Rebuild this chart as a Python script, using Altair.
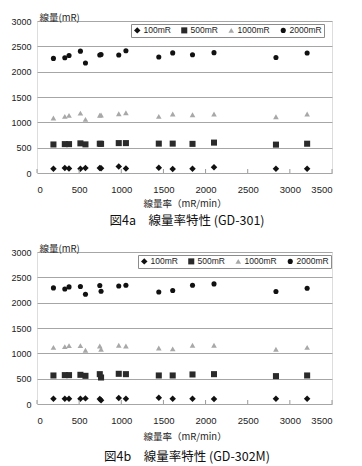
import altair as alt
import pandas as pd

series = ["100mR", "500mR", "1000mR", "2000mR"]
shapes = ["diamond", "square", "triangle-up", "circle"]
colors = ["#111111", "#2a2a2a", "#a8a8a8", "#111111"]
sizes = [42, 26, 38, 62]

x_ticks = [0, 500, 1000, 1500, 2000, 2500, 3000, 3500]
y_ticks = [0, 500, 1000, 1500, 2000, 2500, 3000]

rates = [195, 330, 380, 515, 575, 745, 760, 970, 1055, 1445, 1610, 1845, 2100, 2835, 3205]

# GD-301
a_100 = [85, 99, 90, 85, 99, 99, 95, 130, 88, 105, 80, 85, 112, 85, 85]
a_500 = [563, 570, 570, 585, 565, 578, 575, 590, 590, 580, 580, 575, 600, 560, 578]
a_1000 = [1085, 1118, 1138, 1183, 1059, 1140, 1145, 1170, 1190, 1118, 1164, 1150, 1164, 1111, 1164]
a_2000 = [2262, 2275, 2320, 2405, 2170, 2330, 2338, 2330, 2413, 2290, 2370, 2335, 2375, 2280, 2367]

# GD-302M
b_100 = [104, 104, 104, 104, 111, 98, 75, 117, 104, 124, 104, 104, 98, 104, 104]
b_500 = [563, 570, 570, 576, 556, 589, 523, 596, 589, 563, 563, 583, 589, 550, 563]
b_1000 = [1119, 1132, 1152, 1152, 1061, 1145, 1081, 1159, 1145, 1106, 1087, 1159, 1159, 1081, 1119]
b_2000 = [2291, 2271, 2311, 2318, 2167, 2338, 2226, 2330, 2344, 2212, 2239, 2344, 2370, 2219, 2285]

caption_a = "図4a　線量率特性 (GD-301)"
caption_b = "図4b　線量率特性 (GD-302M)"

W, H = 295, 152
LABEL_FONT = "Liberation Sans"
JP_FONT = "Noto Sans CJK JP"


def panel(vals, caption, lx, ly, lab_pad, title_y, cap_y):
    rows = []
    for s, v in zip(series, vals):
        for r, d in zip(rates, v):
            rows.append({"rate": r, "dose": d, "series": s})
    df = pd.DataFrame(rows)

    leg = alt.Legend(
        title=None, orient="none", legendX=lx, legendY=ly, direction="horizontal",
        columns=4, strokeColor="#8c8c8c", fillColor="white", padding=2,
        labelFont=LABEL_FONT, labelFontSize=8.5, labelColor="#222",
        labelOffset=2, columnPadding=9, symbolStrokeWidth=0.6,
    )
    x_axis = alt.Axis(values=x_ticks, format="d", title="線量率（mR/min）", grid=False,
                      ticks=False, domain=False, labelPadding=lab_pad,
                      labelFont=LABEL_FONT, labelFontSize=9.5, labelColor="#222",
                      titleFont=JP_FONT, titleFontSize=9.5, titleFontWeight="normal",
                      titleColor="#222", titleY=title_y, titleBaseline="middle")
    x_scale = alt.Scale(domain=[0, 3500], nice=False)
    pts = alt.Chart(df).mark_point(filled=True, opacity=1, strokeWidth=0.6).encode(
        x=alt.X("rate:Q", scale=x_scale, axis=x_axis),
        y=alt.Y("dose:Q", scale=alt.Scale(domain=[0, 3000], nice=False),
                axis=alt.Axis(values=y_ticks, format="d", title="線量(mR)", grid=True,
                              gridColor="#a6a6a6", gridWidth=1, ticks=False, domain=False,
                              labelPadding=6, labelFont=LABEL_FONT, labelFontSize=9,
                              labelColor="#222", titleFont=JP_FONT, titleFontSize=9.5,
                              titleFontWeight="normal", titleColor="#222", titleAngle=0,
                              titleX=2, titleY=-4, titleAlign="left",
                              titleBaseline="middle")),
        shape=alt.Shape("series:N", scale=alt.Scale(domain=series, range=shapes), legend=leg),
        color=alt.Color("series:N", scale=alt.Scale(domain=series, range=colors), legend=leg),
        size=alt.Size("series:N", scale=alt.Scale(domain=series, range=sizes), legend=leg),
    )
    ticks = alt.Chart(pd.DataFrame({"rate": x_ticks})).mark_rule(color="#9a9a9a", strokeWidth=1).encode(
        x=alt.X("rate:Q", scale=x_scale, axis=x_axis), y=alt.value(H), y2=alt.value(H - 4)
    )
    cap = alt.Chart(pd.DataFrame({"c": [caption]})).mark_text(
        font=JP_FONT, fontSize=12.5, fontWeight="normal", color="#111", baseline="middle", align="center"
    ).encode(text="c:N", x=alt.value(150), y=alt.value(cap_y))
    return alt.layer(pts, ticks, cap).properties(width=W, height=H)


top = panel([a_100, a_500, a_1000, a_2000], caption_a, 94, 3, 11, 30, 200)
bottom = panel([b_100, b_500, b_1000, b_2000], caption_b, 101, 3, 11, 32, 205)

chart = alt.vconcat(top, bottom, spacing=79, bounds="flush").resolve_scale(
    color="independent", shape="independent", size="independent"
).resolve_legend(
    color="independent", shape="independent", size="independent"
).properties(
    padding={"left": 2, "top": 3, "right": 2, "bottom": 2}
).configure_view(stroke="#9a9a9a", strokeWidth=1).configure(background="white")

chart.save("out.html", embed_options={"renderer": "svg", "actions": False})
